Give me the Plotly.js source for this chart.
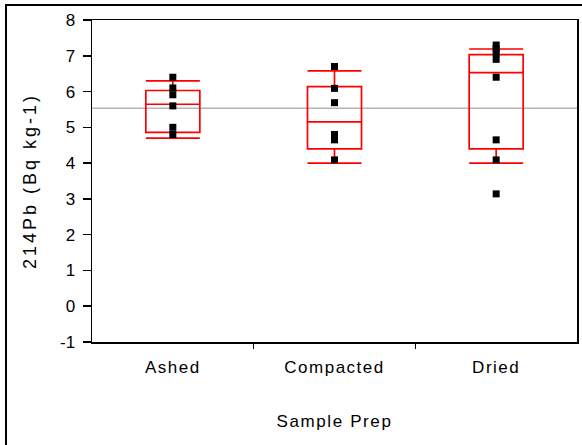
<!DOCTYPE html>
<html>
<head>
<meta charset="utf-8">
<script src="https://cdn.plot.ly/plotly-3.0.1.min.js"></script>
<style>
  html, body { margin: 0; padding: 0; background: #fff; }
  #chart { width: 582px; height: 445px; }
  /* wider tracking for the axis texts */
  #chart .xtick text { letter-spacing: 1.5px; }
  #chart .g-xtitle text { letter-spacing: 1.6px; }
  #chart .g-ytitle text { letter-spacing: 3px; }
</style>
</head>
<body>
<div id="chart"></div>
<script>
// Sample preparation groups
const categories = ['Ashed', 'Compacted', 'Dried'];

// Individual 214Pb measurements per group (Bq kg-1)
const ashedValues = [6.40, 6.10, 5.91, 5.60, 5.00, 4.80];
const compactedValues = [6.70, 6.09, 5.69, 4.80, 4.65, 4.09];
const driedValues = [7.30, 7.20, 7.08, 6.90, 6.40, 4.65, 4.09, 3.14];

// Quantile box statistics per group (10%, 25%, 50%, 75%, 90%)
const p10 = [4.70, 4.00, 4.00];
const q1 = [4.86, 4.40, 4.40];
const medians = [5.645, 5.15, 6.53];
const q3 = [6.03, 6.14, 7.03];
const p90 = [6.30, 6.58, 7.19];

// Grand mean across all samples
const grandMean = 5.53;

// Value axis ticks and their labels (plain hyphen for negatives)
const yTickValues = [-1, 0, 1, 2, 3, 4, 5, 6, 7, 8];
const yTickLabels = ['-1', '0', '1', '2', '3', '4', '5', '6', '7', '8'];

// Group separators on the category axis
const separatorTicks = [0.5, 1.5];

const groups = [ashedValues, compactedValues, driedValues];
const pointX = [];
const pointY = [];
groups.forEach((vals, i) => {
  vals.forEach(v => { pointX.push(categories[i]); pointY.push(v); });
});

const boxTrace = {
  type: 'box',
  x: categories,
  q1: q1,
  median: medians,
  q3: q3,
  lowerfence: p10,
  upperfence: p90,
  boxpoints: false,
  width: 0.334,
  whiskerwidth: 1,
  fillcolor: 'rgba(0,0,0,0)',
  line: { color: '#ff0000', width: 1.7 },
  hoverinfo: 'skip',
  showlegend: false
};

const pointTrace = {
  type: 'scatter',
  mode: 'markers',
  x: pointX,
  y: pointY,
  marker: { symbol: 'square', size: 7, color: '#000000' },
  showlegend: false,
  cliponaxis: false
};

// empty trace that keeps the separator axis drawn
const separatorTrace = {
  type: 'scatter',
  mode: 'markers',
  x: [],
  y: [],
  xaxis: 'x2',
  yaxis: 'y',
  showlegend: false,
  hoverinfo: 'skip'
};

const fontFamily = 'Arial, "Liberation Sans", sans-serif';
const textFont = { family: fontFamily, size: 17, color: '#000' };

const layout = {
  width: 582,
  height: 445,
  margin: { l: 92, r: 5, t: 20, b: 103 },
  paper_bgcolor: '#ffffff',
  plot_bgcolor: '#ffffff',
  font: textFont,
  showlegend: false,
  xaxis: {
    type: 'category',
    range: [-0.5, 2.5],
    ticks: '',
    showline: true,
    linecolor: '#000',
    linewidth: 1.5,
    mirror: true,
    showgrid: false,
    zeroline: false,
    tickfont: textFont,
    ticklabelstandoff: 9,
    title: { text: 'Sample Prep', font: textFont, standoff: 39 }
  },
  xaxis2: {
    type: 'linear',
    overlaying: 'x',
    anchor: 'y',
    side: 'bottom',
    range: [-0.5, 2.5],
    autorange: false,
    tickmode: 'array',
    tickvals: separatorTicks,
    showticklabels: false,
    ticks: 'outside',
    ticklen: 6,
    tickwidth: 1.5,
    tickcolor: '#000',
    showline: false,
    showgrid: false,
    zeroline: false
  },
  yaxis: {
    range: [-1, 8],
    tickmode: 'array',
    tickvals: yTickValues,
    ticktext: yTickLabels,
    ticks: 'outside',
    ticklen: 8,
    tickwidth: 1.5,
    tickcolor: '#000',
    showline: true,
    linecolor: '#000',
    linewidth: 1.5,
    mirror: true,
    showgrid: false,
    zeroline: false,
    tickfont: textFont,
    ticklabelstandoff: 4,
    title: { text: '214Pb (Bq kg-1)', font: { family: fontFamily, size: 18, color: '#000' }, standoff: 18 }
  },
  shapes: [
    {
      type: 'line', layer: 'below',
      xref: 'paper', x0: 0, x1: 1,
      yref: 'y', y0: grandMean, y1: grandMean,
      line: { color: '#b4b4b4', width: 1.5 }
    },
    {
      type: 'rect', layer: 'above',
      xref: 'paper', x0: -0.1773, x1: 1.2,
      yref: 'paper', y0: -0.5, y1: 1.0466,
      line: { color: '#000', width: 2 },
      fillcolor: 'rgba(0,0,0,0)'
    }
  ]
};

Plotly.newPlot('chart', [boxTrace, pointTrace, separatorTrace], layout, { displayModeBar: false, staticPlot: true });
</script>
</body>
</html>
